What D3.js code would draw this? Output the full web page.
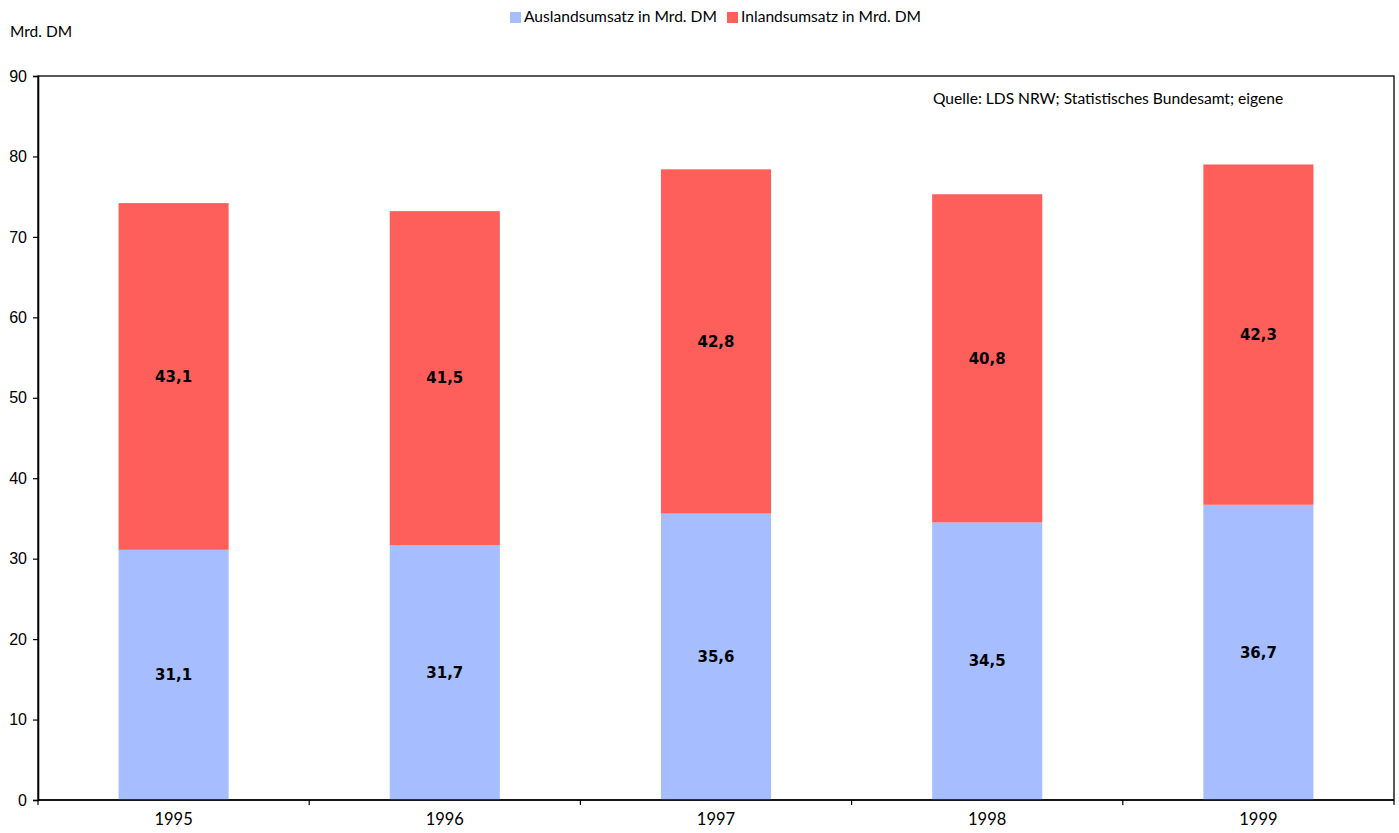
<!DOCTYPE html>
<html>
<head>
<meta charset="utf-8">
<script src="https://cdn.jsdelivr.net/npm/d3@7"></script>
<style>
  html, body { margin: 0; padding: 0; background: #fff; }
  svg { display: block; font-family: "Lato", "DejaVu Sans", sans-serif; }
</style>
</head>
<body>
<svg id="chart" width="1399" height="833"></svg>
<script>
// Umsatz in Mrd. DM, 1995–1999
const years = ["1995", "1996", "1997", "1998", "1999"];
const auslandsumsatz = [31.1, 31.7, 35.6, 34.5, 36.7];
const inlandsumsatz = [43.1, 41.5, 42.8, 40.8, 42.3];
const seriesNames = ["Auslandsumsatz in Mrd. DM", "Inlandsumsatz in Mrd. DM"];
const yTicks = [0, 10, 20, 30, 40, 50, 60, 70, 80, 90];
const colors = ["#a6bdff", "#ff5f5a"];

const svg = d3.select("#chart");
const margin = { left: 38, right: 5, top: 76, bottom: 33 };
const W = 1399, H = 833;
const x0 = margin.left, x1 = W - margin.right;
const y0 = H - margin.bottom, y1 = margin.top;

const x = d3.scaleBand().domain(years).range([x0, x1]).paddingInner(0.594).paddingOuter(0.297);
const xOuter = d3.scaleBand().domain(years).range([x0, x1]);
const y = d3.scaleLinear().domain([0, 90]).range([y0, y1]);

const stackData = years.map((yr, i) => ({ year: yr, a: auslandsumsatz[i], b: inlandsumsatz[i] }));
const stacked = d3.stack().keys(["a", "b"])(stackData);

// plot frame
svg.append("rect")
  .attr("x", x0).attr("y", y1)
  .attr("width", x1 - x0).attr("height", y0 - y1)
  .attr("fill", "#fff").attr("stroke", "#000").attr("stroke-width", 1.3);

// bars
stacked.forEach((layer, k) => {
  svg.append("g").selectAll("rect")
    .data(layer)
    .join("rect")
    .attr("x", d => x(d.data.year))
    .attr("width", x.bandwidth())
    .attr("y", d => y(d[1]))
    .attr("height", d => y(d[0]) - y(d[1]))
    .attr("fill", colors[k]);
});

// value labels
stacked.forEach((layer, k) => {
  svg.append("g").selectAll("text")
    .data(layer)
    .join("text")
    .attr("x", d => x(d.data.year) + x.bandwidth() / 2)
    .attr("y", d => y((d[0] + d[1]) / 2))
    .attr("dy", "0.35em")
    .attr("text-anchor", "middle")
    .attr("font-family", "'DejaVu Sans', sans-serif")
    .attr("font-size", 15)
    .attr("font-weight", "bold")
    .attr("fill", "#000")
    .text(d => d3.format(".1f")(d[1] - d[0]).replace(".", ","));
});

// y axis
const yAxis = svg.append("g")
  .attr("transform", `translate(${x0},0)`)
  .call(d3.axisLeft(y).tickValues(yTicks).tickSize(5).tickPadding(6).tickFormat(d3.format("d")));
yAxis.select(".domain").attr("stroke", "#000").attr("stroke-width", 1.6);
yAxis.selectAll(".tick line").attr("stroke", "#000").attr("stroke-width", 1.2);
yAxis.selectAll(".tick text").attr("font-size", 16).attr("fill", "#000");

// x axis with ticks between categories
const xAxisG = svg.append("g").attr("transform", `translate(0,${y0})`);
xAxisG.append("line")
  .attr("x1", x0).attr("x2", x1).attr("y1", 0).attr("y2", 0)
  .attr("stroke", "#000").attr("stroke-width", 1.6);
const boundaries = years.map(yr => xOuter(yr)).concat([x1]);
xAxisG.selectAll("line.tick")
  .data(boundaries)
  .join("line")
  .attr("class", "tick")
  .attr("x1", d => d).attr("x2", d => d)
  .attr("y1", 0).attr("y2", 5)
  .attr("stroke", "#000").attr("stroke-width", 1.2);
xAxisG.selectAll("text")
  .data(years)
  .join("text")
  .attr("x", d => xOuter(d) + xOuter.bandwidth() / 2)
  .attr("y", 25)
  .attr("text-anchor", "middle")
  .attr("font-size", 16.5)
  .attr("fill", "#000")
  .text(d => d);

// axis unit
svg.append("text")
  .attr("x", 10).attr("y", 37)
  .attr("font-size", 15.5).attr("fill", "#000")
  .text("Mrd. DM");

// source note
svg.append("text")
  .attr("x", 933).attr("y", 104)
  .attr("font-size", 15.6).attr("fill", "#000")
  .text("Quelle: LDS NRW; Statistisches Bundesamt; eigene");

// legend
const legend = svg.append("g");
const legendX = [510, 727];
seriesNames.forEach((name, i) => {
  legend.append("rect")
    .attr("x", legendX[i]).attr("y", 12)
    .attr("width", 11).attr("height", 11)
    .attr("fill", colors[i]);
  legend.append("text")
    .attr("x", legendX[i] + 14).attr("y", 22)
    .attr("font-size", 15.6).attr("fill", "#000")
    .text(name);
});
</script>
</body>
</html>
